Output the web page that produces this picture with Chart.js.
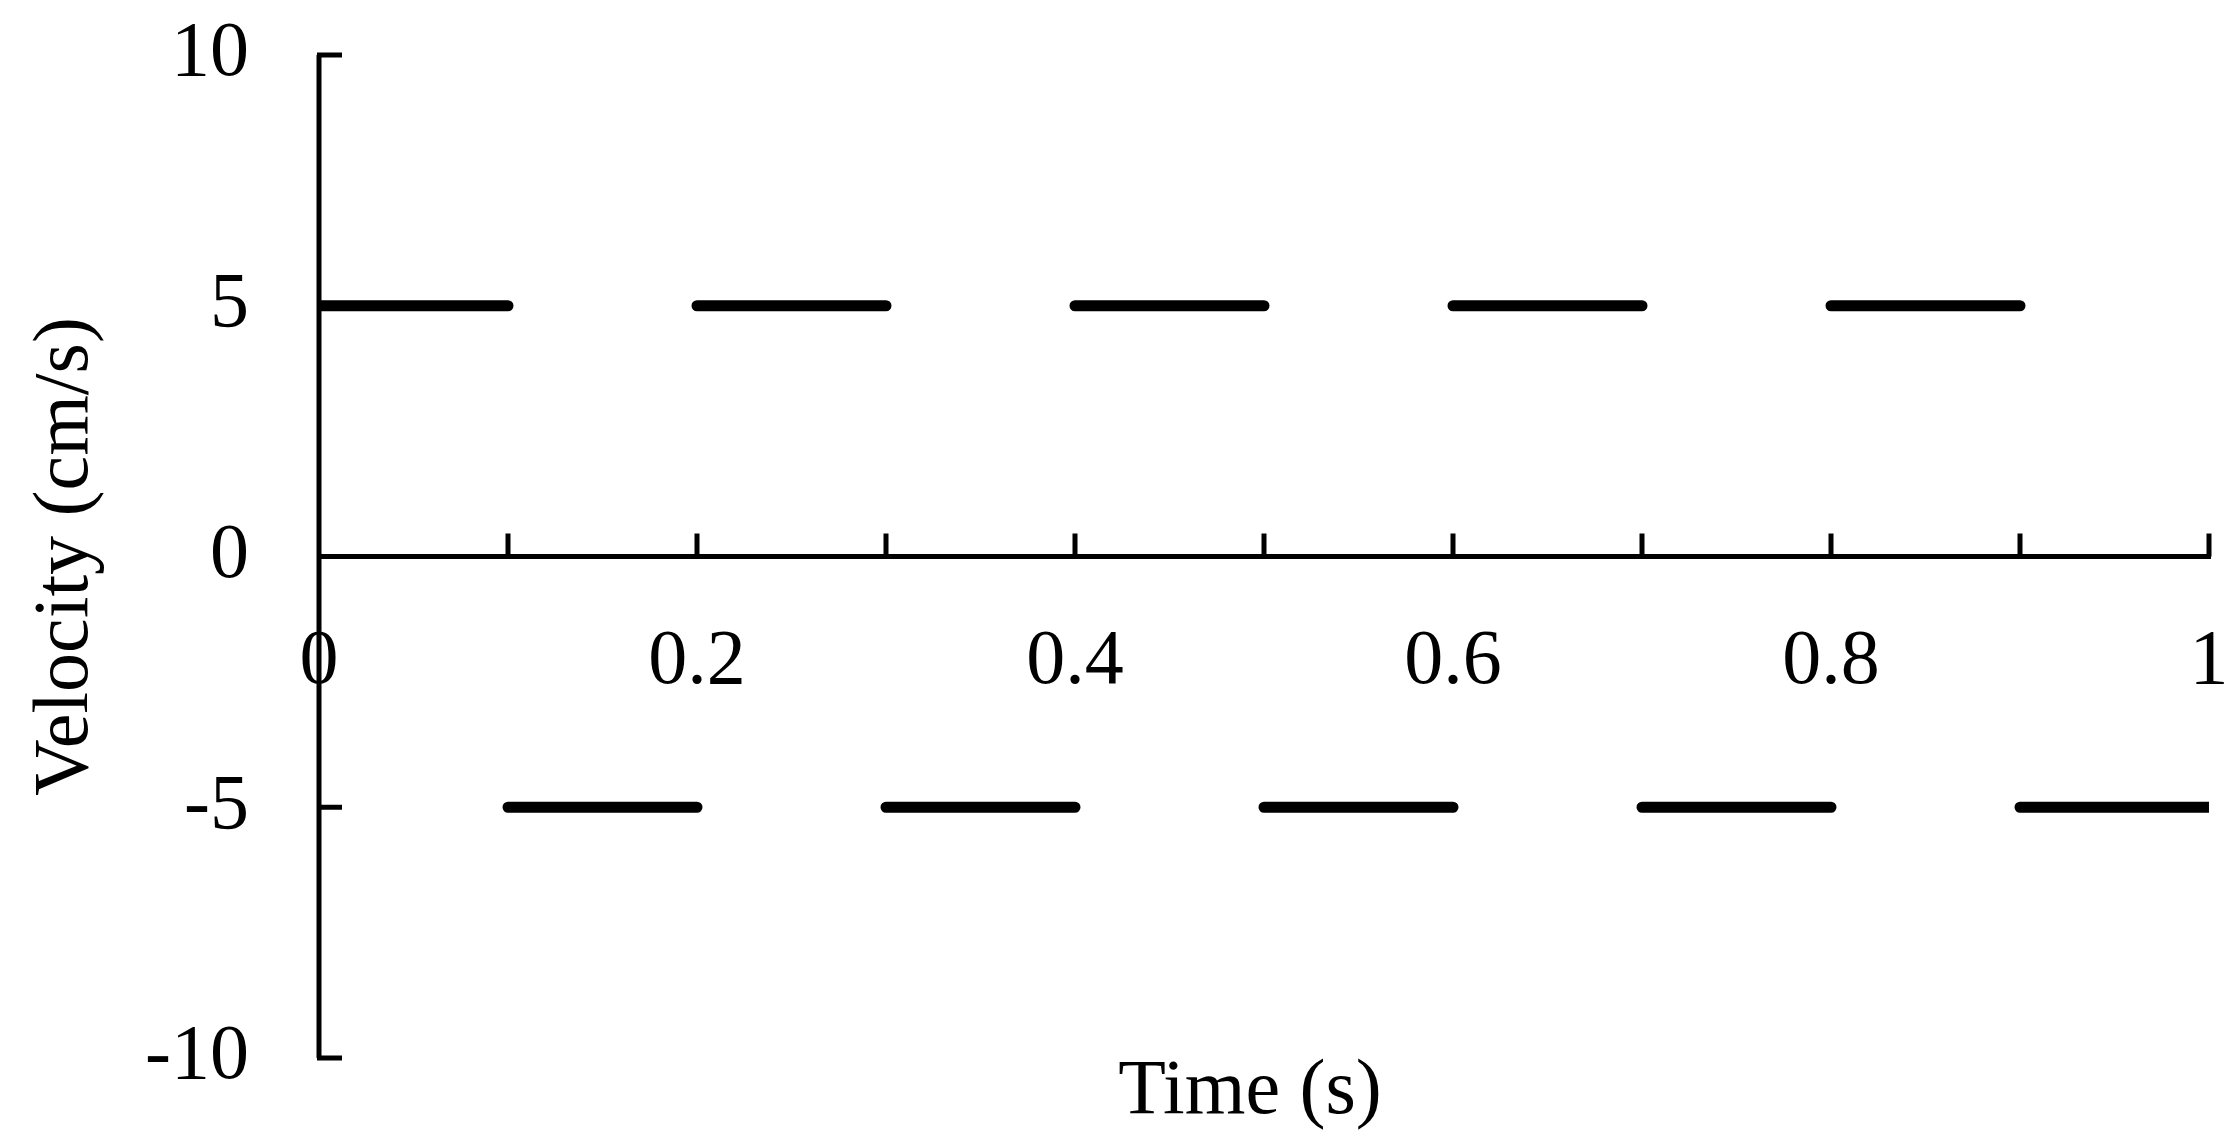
<!DOCTYPE html>
<html><head><meta charset="utf-8">
<script src="https://cdn.jsdelivr.net/npm/chart.js@4"></script>
<style>html,body{margin:0;padding:0;background:#fff}</style>
</head><body>
<canvas id="c" width="2240" height="1136"></canvas>
<script>
// Segment data: x and y (null breaks the line)
const upperX = [0, 0.1, null, 0.2, 0.3, null, 0.4, 0.5, null, 0.6, 0.7, null, 0.8, 0.9];
const upperY = [5, 5, null, 5, 5, null, 5, 5, null, 5, 5, null, 5, 5];
const lowerX = [0.1, 0.2, null, 0.3, 0.4, null, 0.5, 0.6, null, 0.7, 0.8, null, 0.9, 1.0];
const lowerY = [-5, -5, null, -5, -5, null, -5, -5, null, -5, -5, null, -5, -5];
const xTickLabels = ['0', '0.2', '0.4', '0.6', '0.8', '1'];
const yTickLabels = ['-10', '-5', '0', '5', '10'];
const xTitle = 'Time (s)';
const yTitle = 'Velocity (cm/s)';

const toPts = (xs, ys) => xs.map((x, i) => (x === null ? {x: (xs[i-1]+xs[i+1])/2, y: null} : {x, y: ys[i]}));
const FONT = '"Liberation Serif", "Times New Roman", serif';

const axisPlugin = {
  id: 'axisPlugin',
  afterDraw(chart) {
    const ctx = chart.ctx, xs = chart.scales.x, ys = chart.scales.y;
    const y0 = ys.getPixelForValue(0), x0 = xs.getPixelForValue(0);
    ctx.save();
    ctx.strokeStyle = '#000'; ctx.lineWidth = 5; ctx.lineCap = 'butt';
    // x axis line and ticks (upward)
    ctx.beginPath(); ctx.moveTo(x0, y0); ctx.lineTo(xs.getPixelForValue(1)+2, y0);
    for (let i = 1; i <= 10; i++) { const px = xs.getPixelForValue(i/10); ctx.moveTo(px, y0); ctx.lineTo(px, y0-23); }
    // y axis line and ticks (right)
    ctx.moveTo(x0, ys.getPixelForValue(10)); ctx.lineTo(x0, ys.getPixelForValue(-10));
    yTickLabels.forEach(l => { const py = ys.getPixelForValue(+l); ctx.moveTo(x0-2, py); ctx.lineTo(x0+23, py); });
    ctx.stroke();
    ctx.fillStyle = '#000'; ctx.font = '78px ' + FONT;
    // x tick labels
    ctx.textAlign = 'center'; ctx.textBaseline = 'middle';
    xTickLabels.forEach(l => ctx.fillText(l, xs.getPixelForValue(+l), y0 + 106));
    // y tick labels
    ctx.textAlign = 'right';
    yTickLabels.forEach(l => ctx.fillText(l, x0 - 70, ys.getPixelForValue(+l)));
    // titles
    ctx.textAlign = 'center';
    ctx.fillText(xTitle, 1250, 1093);
    ctx.translate(67, (ys.top+ys.bottom)/2); ctx.rotate(-Math.PI/2);
    ctx.fillText(yTitle, 0, 0);
    ctx.restore();
  }
};

new Chart(document.getElementById('c'), {
  type: 'line',
  data: { datasets: [
    { data: toPts(upperX, upperY), borderColor: '#000', borderWidth: 11, borderCapStyle: 'round', pointRadius: 0, spanGaps: false },
    { data: toPts(lowerX, lowerY), borderColor: '#000', borderWidth: 11, borderCapStyle: 'round', pointRadius: 0, spanGaps: false }
  ]},
  options: {
    responsive: false, devicePixelRatio: 1, animation: false,
    layout: { padding: { left: 319, right: 31, top: 55, bottom: 78 } },
    plugins: { legend: { display: false }, tooltip: { enabled: false } },
    scales: {
      x: { type: 'linear', min: 0, max: 1, display: false },
      y: { type: 'linear', min: -10, max: 10, display: false }
    }
  },
  plugins: [axisPlugin]
});
</script>
</body></html>
